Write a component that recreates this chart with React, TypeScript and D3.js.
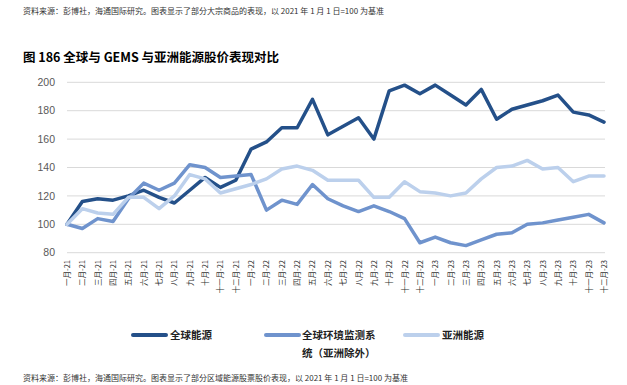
import React from "react";
import * as d3 from "d3";

const months = ["一月", "二月", "三月", "四月", "五月", "六月", "七月", "八月", "九月", "十月", "十一月", "十二月"];
const years = ["21", "22", "23"];
const categories: string[] = years.flatMap((y) => months.map((m) => `${m}-${y}`));

const globalEnergy = [100, 116, 118, 117, 120, 124, 119, 115, 124, 133, 126, 131, 153, 158, 168, 168, 188, 163, 169, 175, 160, 194, 198, 192, 198, 191, 184, 195, 174, 181, 184, 187, 191, 179, 177, 172];
const gemsExAsia = [100, 97, 104, 102, 118, 129, 124, 129, 142, 140, 133, 134, 135, 110, 117, 114, 128, 118, 113, 109, 113, 109, 104, 87, 91, 87, 85, 89, 93, 94, 100, 101, 103, 105, 107, 101];
const asiaEnergy = [100, 111, 108, 107, 119, 119, 111, 120, 135, 132, 122, 125, 128, 132, 139, 141, 138, 131, 131, 131, 119, 119, 130, 123, 122, 120, 122, 132, 140, 141, 145, 139, 140, 130, 134, 134];
const yTicks = [80, 100, 120, 140, 160, 180, 200];

const seriesNames = ["全球能源", "全球环境监测系统（亚洲除外）", "亚洲能源"];
const colors = ["#245089", "#6F93CD", "#BCD0EC"];

export default function App() {
  const W = 627, H = 385;
  const x = d3.scalePoint<string>().domain(categories).range([67, 604]);
  const y = d3.scaleLinear().domain([80, 200]).range([252.7, 82.3]);
  const line = d3
    .line<number>()
    .x((_, i) => x(categories[i]) as number)
    .y((d) => y(d));
  const series = [globalEnergy, gemsExAsia, asiaEnergy];
  const cjk = "'Noto Sans CJK SC', 'Noto Sans', sans-serif";

  return (
    <svg width={W} height={H} style={{ position: "absolute", left: 0, top: 0, background: "#fff" }} fontFamily={cjk}>
      <text x={23} y={14} fontSize={8} fill="#333">
        资料来源：彭博社，海通国际研究。图表显示了部分大宗商品的表现，以 2021 年 1 月 1 日=100 为基准
      </text>
      <text x={23} y={62} fontSize={12.5} fontWeight="bold" fill="#000">
        图 186 全球与 GEMS 与亚洲能源股价表现对比
      </text>
      {yTicks.map((t) => (
        <g key={t}>
          <line x1={67} x2={605} y1={y(t)} y2={y(t)} stroke="#D9D9D9" strokeWidth={1} />
          <text x={55} y={y(t)} dy="0.35em" textAnchor="end" fontSize={10.5} fill="#595959" fontFamily="'Liberation Sans', Arial, sans-serif">
            {t}
          </text>
        </g>
      ))}
      {categories.map((c) => (
        <text
          key={c}
          transform={`translate(${(x(c) as number) + 3},260) rotate(-90)`}
          textAnchor="end"
          fontSize={7.5}
          fill="#333"
        >
          {c}
        </text>
      ))}
      {series.map((s, k) => (
        <path key={k} d={line(s) || ""} fill="none" stroke={colors[k]} strokeWidth={3.5} strokeLinejoin="round" strokeLinecap="round" />
      ))}
      {[
        { x0: 133, tx: 170 },
        { x0: 266, tx: 302 },
        { x0: 405, tx: 442 },
      ].map((p, k) => (
        <g key={k}>
          <line x1={p.x0} x2={p.x0 + 33} y1={335} y2={335} stroke={colors[k]} strokeWidth={4} strokeLinecap="round" />
          {k === 1 ? (
            <>
              <text x={p.tx} y={339} fontSize={10.5} fontWeight="bold" fill="#222">全球环境监测系</text>
              <text x={p.tx} y={357} fontSize={10.5} fontWeight="bold" fill="#222">统（亚洲除外）</text>
            </>
          ) : (
            <text x={p.tx} y={339} fontSize={10.5} fontWeight="bold" fill="#222">{seriesNames[k]}</text>
          )}
        </g>
      ))}
      <text x={23} y={381} fontSize={8} fill="#333">
        资料来源：彭博社，海通国际研究。图表显示了部分区域能源股票股价表现，以 2021 年 1 月 1 日=100 为基准
      </text>
    </svg>
  );
}
